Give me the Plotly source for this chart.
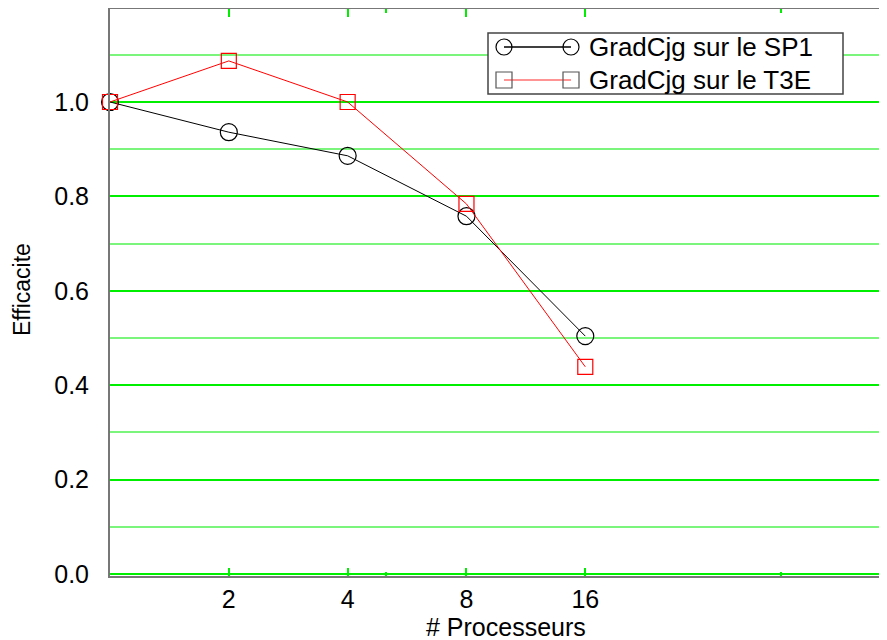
import numpy as np
import plotly.graph_objects as go

# Number of processors (log2 spaced on the x axis)
processors = [1, 2, 4, 8, 16]

# Efficiency of GradCjg on each machine
eff_sp1 = [1.0, 0.936, 0.886, 0.758, 0.504]
eff_t3e = [1.0, 1.087, 1.0, 0.784, 0.439]

x_tick_vals = [2, 4, 8, 16]
x_tick_text = ["2", "4", "8", "16"]
x_minor_vals = [5, 50]

y_tick_vals = [0, 0.2, 0.4, 0.6, 0.8, 1.0]
y_minor_vals = [0.1, 0.3, 0.5, 0.7, 0.9, 1.1]

series_names = ["GradCjg sur le SP1", "GradCjg sur le T3E"]

FONT = "Liberation Sans, Arial, sans-serif"
# the page body has an 8px margin, so the figure is drawn 8px smaller
OFF = 8
W, H = 887 - OFF, 640 - OFF
L, R, T, B = 110 - OFF, 0, 1, 64
PW, PH = W - L - R, H - T - B


def px_to_paper(px, py):
    # convert window pixels to paper coordinates
    return (px - OFF - L) / PW, (H - B - (py - OFF)) / PH


fig = go.Figure()

# SP1 line, open circles
fig.add_trace(go.Scatter(
    x=processors, y=eff_sp1, name=series_names[0],
    mode="lines+markers",
    line=dict(color="black", width=1),
    marker=dict(symbol="circle-open", size=17, color="black", line=dict(width=1.2)),
    cliponaxis=False, showlegend=False
))

# T3E line, open squares
fig.add_trace(go.Scatter(
    x=processors, y=eff_t3e, name=series_names[1],
    mode="lines+markers",
    line=dict(color="red", width=1),
    marker=dict(symbol="square-open", size=15, color="red", line=dict(width=1.2)),
    cliponaxis=False, showlegend=False
))

# Hand drawn legend box (gnuplot style, marker at both ends of the line)
shapes = []
x0, y0 = px_to_paper(488, 33)
x1, y1 = px_to_paper(843, 94)
shapes.append(dict(type="rect", xref="paper", yref="paper", x0=x0, x1=x1, y0=y1, y1=y0,
                   line=dict(color="#444", width=1.5), fillcolor="white", layer="above"))

rows = [(47, "black", "circle"), (80, "#ff7070", "square")]
annotations = []
for (py, col, kind), name in zip(rows, series_names):
    lx0, ly = px_to_paper(504, py)
    lx1, _ = px_to_paper(571, py)
    shapes.append(dict(type="line", xref="paper", yref="paper", x0=lx0, x1=lx1, y0=ly, y1=ly,
                       line=dict(color=col, width=1.5), layer="above"))
    for cx in (504, 571):
        a, b = px_to_paper(cx - 8, py - 8)
        c, d = px_to_paper(cx + 8, py + 8)
        shapes.append(dict(type="circle" if kind == "circle" else "rect",
                           xref="paper", yref="paper", x0=a, x1=c, y0=d, y1=b,
                           line=dict(color="black" if kind == "circle" else "#555", width=1.2),
                           layer="above"))
    tx, ty = px_to_paper(587, py)
    annotations.append(dict(x=tx, y=ty, xref="paper", yref="paper", text=name, showarrow=False,
                            xanchor="left", yanchor="middle", font=dict(family=FONT, size=26, color="black")))

# axis titles
tx, ty = px_to_paper(506, 627)
annotations.append(dict(x=tx, y=ty, xref="paper", yref="paper", text="# Processeurs", showarrow=False,
                        xanchor="center", yanchor="middle", font=dict(family=FONT, size=25, color="black")))
tx, ty = px_to_paper(22, 290)
annotations.append(dict(x=tx, y=ty, xref="paper", yref="paper", text="Efficacite", showarrow=False,
                        textangle=-90, xanchor="center", yanchor="middle",
                        font=dict(family=FONT, size=23, color="black")))

fig.update_layout(
    width=W, height=H,
    margin=dict(l=L, r=R, t=T, b=B),
    paper_bgcolor="white", plot_bgcolor="white",
    shapes=shapes, annotations=annotations,
    font=dict(family=FONT, size=25, color="black"),
    xaxis=dict(
        type="log", range=[0, np.log10(93)],
        tickvals=x_tick_vals, ticktext=x_tick_text,
        ticks="inside", ticklen=8, tickcolor="#00ee00", tickwidth=1.5,
        showgrid=False, zeroline=False,
        showline=True, linecolor="#777", linewidth=2, mirror="ticks",
        minor=dict(tickvals=x_minor_vals, ticks="inside", ticklen=4, tickcolor="#00ee00", showgrid=False),
        tickfont=dict(family=FONT, size=25),
    ),
    yaxis=dict(
        range=[-0.0042, 1.197],
        tickvals=y_tick_vals,
        tickformat=".1f", ticks="", ticklabelstandoff=14,
        showgrid=True, gridcolor="#00ee00", gridwidth=2,
        minor=dict(tickvals=y_minor_vals, showgrid=True,
                   gridcolor="#7cf57c", gridwidth=1.5),
        zeroline=False,
        showline=True, linecolor="#777", linewidth=2,
        tickfont=dict(family=FONT, size=25),
    ),
)

fig.write_html("out.html")
